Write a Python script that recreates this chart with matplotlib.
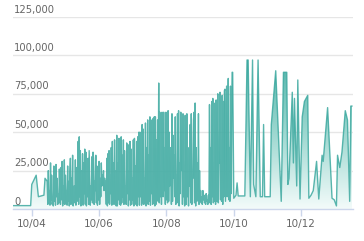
import numpy as np
import matplotlib
matplotlib.use("Agg")
import matplotlib.pyplot as plt
import matplotlib.dates as mdates
from matplotlib.colors import LinearSegmentedColormap

# base date, every day offset below counts from here
base_date = np.datetime64("2010-04-01T00")

# first sparse points (day offset, value)
first_days = [-17, -1, 0, 4, 6, 11, 12, 13]
first_vals = [2200, 2200, 16000, 22000, 8000, 9000, 20000, 19000]

# twice-a-day values from day 14 to day 181 (one row per week)
dense_start = 14
dense_vals = [
    18000, 3000, 25000, 4000, 12000, 2500, 30000, 6000, 22000, 3000, 8000, 2000, 28000, 5000,
    14000, 2500, 29000, 8000, 20000, 3000, 10000, 4000, 26000, 12000, 3000, 27000, 6000, 31000,
    2000, 15000, 4000, 32000, 3000, 22000, 8000, 12000, 2500, 28000, 5000, 18000, 2000, 24000,
    33000, 3000, 20000, 6000, 35000, 2000, 14000, 15000, 4000, 32000, 2500, 27000, 5000, 22000,
    44000, 3000, 47000, 8000, 38000, 2000, 25000, 5000, 36000, 2500, 30000, 10000, 39000, 3000,
    37000, 2000, 20000, 8000, 33000, 3000, 38000, 20000, 2500, 15000, 6000, 34000, 4000, 37000,
    33000, 3000, 18000, 12000, 35000, 4000, 28000, 2500, 10000, 6000, 31000, 3000, 20000, 8000,
    30000, 15000, 22000, 18000, 25000, 12000, 20000, 14000, 18000, 3000, 33000, 2000, 36000, 4000,
    38000, 3000, 22000, 10000, 40000, 2500, 44000, 5000, 30000, 3000, 45000, 6000, 25000, 2000,
    48000, 2000, 30000, 6000, 46000, 3000, 20000, 2500, 47000, 4000, 35000, 8000, 45000, 3000,
    38000, 5000, 15000, 3000, 43000, 10000, 42000, 2000, 25000, 6000, 44000, 2500, 39000, 3000,
    20000, 6000, 45000, 2000, 46000, 3000, 28000, 4000, 44000, 2000, 47000, 8000, 50000, 2500,
    50000, 8000, 30000, 2500, 55000, 4000, 52000, 3000, 20000, 6000, 56000, 2000, 40000, 4000,
    58000, 3000, 35000, 5000, 60000, 2500, 58000, 10000, 25000, 3000, 59000, 4000, 60000, 2000,
    60000, 3000, 45000, 20000, 58000, 5000, 82000, 4000, 63000, 8000, 30000, 3000, 63000, 12000,
    8000, 63000, 12000, 40000, 3000, 63000, 6000, 62000, 4000, 64000, 5000, 50000, 15000, 25000,
    40000, 3000, 62000, 5000, 48000, 20000, 35000, 8000, 60000, 3000, 22000, 10000, 62000, 4000,
    64000, 2000, 30000, 10000, 63000, 25000, 55000, 3000, 62000, 8000, 18000, 2000, 61000, 5000,
    3000, 62000, 8000, 35000, 2000, 40000, 15000, 55000, 4000, 62000, 3000, 25000, 20000, 58000,
    63000, 4000, 69000, 2000, 40000, 5000, 30000, 10000, 62000, 3000, 25000, 5000, 12000, 4000,
    8000, 3000, 12000, 6000, 9000, 4000, 7000, 3000, 10000, 5000, 6000, 3000, 9000, 4000,
    68000, 5000, 40000, 3000, 70000, 8000, 72000, 4000, 30000, 5000, 69000, 3000, 71000, 6000,
    5000, 75000, 4000, 45000, 30000, 76000, 6000, 50000, 5000, 74000, 3000, 70000, 8000, 77000,
    78000, 5000, 45000, 80000, 8000, 60000, 85000, 6000, 40000, 5000, 80000, 10000, 60000, 89000,
]

# later, sparser points (day offset, value)
late_days = [182, 183, 185, 186, 187, 193, 195, 196, 198, 200, 201, 203, 205,
             207, 209, 210, 211, 216, 217, 221, 226, 228, 231, 232, 233, 236,
             237, 238, 240, 241, 243, 245, 247, 250, 251, 253, 255, 258, 260,
             263, 264, 268, 272, 274, 276, 277, 279, 281, 284, 286, 288, 289, 290]
late_vals = [89000, 7000, 9000, 17000, 8500, 8500, 97000, 97000, 8000, 97000,
             16000, 8000, 97000, 8000, 8000, 55000, 8000, 8000, 55000, 90000,
             5000, 89000, 89000, 16000, 20000, 76000, 30000, 72000, 15000,
             84000, 6500, 60000, 70000, 74000, 7000, 9000, 12000, 31000, 6500,
             35000, 31000, 66000, 7000, 6000, 2000, 35000, 27000, 37000, 64000,
             58000, 5000, 67000, 67000]

y_ticks = [0, 25000, 50000, 75000, 100000, 125000]
x_ticks = ["2010-04-01", "2010-06-01", "2010-08-01", "2010-10-01", "2010-12-01"]


def to_num(d):
    return mdates.date2num(np.datetime64(d, "s").astype(object))


# put everything together
dense_days = [dense_start + 0.5 * i for i in range(len(dense_vals))]
days = np.array(first_days + dense_days + late_days, dtype=float)
vals = np.array(first_vals + dense_vals + late_vals, dtype=float)
dates = to_num(base_date) + days

line_color = "#3da9a0"

fig = plt.figure(figsize=(3.64, 2.41), dpi=100)
ax = fig.add_axes([13 / 364, 32 / 241, 340 / 364, 192 / 241])

x0 = to_num(np.datetime64("2010-03-15"))
x1 = to_num(np.datetime64("2011-01-17"))
ax.set_xlim(x0, x1)
ax.set_ylim(0, 125000)

# gridlines
for t in y_ticks[1:]:
    ax.axhline(t, color="#e6e6e6", lw=1, zorder=0)

# gradient area under the line
poly = ax.fill_between(dates, vals, 0, facecolor="none", edgecolor="none")
cmap = LinearSegmentedColormap.from_list("grad", ["#f3fbfa", "#9fd8d1", "#4fb3a9"])
grad = np.linspace(0, 1, 256).reshape(-1, 1)
im = ax.imshow(grad, cmap=cmap, aspect="auto", origin="lower",
               extent=[x0, x1, 0, max(vals)], zorder=1)
im.set_clip_path(poly.get_paths()[0], transform=ax.transData)

ax.plot(dates, vals, color=line_color, lw=1, alpha=0.85, zorder=2)

# axes styling
for s in ["top", "right", "left"]:
    ax.spines[s].set_visible(False)
ax.spines["bottom"].set_color("#ccd6eb")
ax.spines["bottom"].set_linewidth(1)

ax.set_yticks([])
for t in y_ticks:
    ax.text(0.003, t + 1500, f"{t:,}", transform=ax.get_yaxis_transform(),
            fontsize=7.2, color="#666666", ha="left", va="bottom", zorder=3)

ax.set_xticks([to_num(np.datetime64(d)) for d in x_ticks])
ax.xaxis.set_major_formatter(mdates.DateFormatter("%y/%m"))
ax.tick_params(axis="x", colors="#ccd6eb", length=5, width=1, labelsize=7.5,
               labelcolor="#666666", pad=2)

fig.savefig("out.png", dpi=100)
